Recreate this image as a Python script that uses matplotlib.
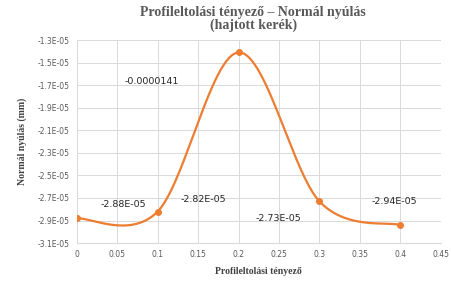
import numpy as np
import matplotlib
matplotlib.use("Agg")
import matplotlib.pyplot as plt
from matplotlib.ticker import FuncFormatter, FixedLocator

x_vals = [0.0, 0.1, 0.2, 0.3, 0.4]
y_vals = [-2.88e-05, -2.82e-05, -1.41e-05, -2.73e-05, -2.94e-05]
point_labels = ["-2.88E-05", "-2.82E-05", "-0.0000141", "-2.73E-05", "-2.94E-05"]
label_pos_x = [0.058, 0.157, 0.092, 0.249, 0.393]
label_pos_y = [-2.755e-05, -2.71e-05, -1.67e-05, -2.88e-05, -2.73e-05]
x_ticks = [0, 0.05, 0.1, 0.15, 0.2, 0.25, 0.3, 0.35, 0.4, 0.45]
y_ticks = [-3.1e-05, -2.9e-05, -2.7e-05, -2.5e-05, -2.3e-05, -2.1e-05,
           -1.9e-05, -1.7e-05, -1.5e-05, -1.3e-05]

title = "Profileltolási tényező – Normál nyúlás\n(hajtott kerék)"
xlabel = "Profileltolási tényező"
ylabel = "Normál nyúlás (mm)"

color = "#ED7D31"

def smooth(xs, ys, n=60):
    xs = np.asarray(xs); ys = np.asarray(ys)
    P = np.column_stack([xs, ys])
    out = []
    for i in range(len(P) - 1):
        p0 = P[i - 1] if i > 0 else P[i]
        p1 = P[i]
        p2 = P[i + 1]
        p3 = P[i + 2] if i + 2 < len(P) else P[i + 1]
        c1 = p1 + (p2 - p0) / 6.0
        c2 = p2 - (p3 - p1) / 6.0
        t = np.linspace(0, 1, n)[:, None]
        seg = ((1 - t) ** 3) * p1 + 3 * ((1 - t) ** 2) * t * c1 + 3 * (1 - t) * t ** 2 * c2 + t ** 3 * p2
        out.append(seg)
    out = np.vstack(out)
    return out[:, 0], out[:, 1]

fig = plt.figure(figsize=(4.52, 2.82), dpi=100)
ax = fig.add_axes([0.170, 0.138, 0.805, 0.72])

sx, sy = smooth(x_vals, y_vals)
ax.plot(sx, sy, color=color, lw=1.6, zorder=3)
ax.plot(x_vals, y_vals, "o", color=color, ms=4, zorder=4)

for lx, ly, t in zip(label_pos_x, label_pos_y, point_labels):
    ax.text(lx, ly, t, fontsize=6.8, color="#262626", ha="center", va="center",
            family="DejaVu Sans")

ax.set_xlim(0, 0.45)
ax.set_ylim(-3.1e-05, -1.3e-05)
ax.xaxis.set_major_locator(FixedLocator(x_ticks))
ax.yaxis.set_major_locator(FixedLocator(y_ticks))
ax.yaxis.set_major_formatter(FuncFormatter(lambda v, p: f"{v:.1E}"))
ax.xaxis.set_major_formatter(FuncFormatter(lambda v, p: f"{round(v, 2):g}"))
ax.grid(True, color="#D9D9D9", lw=0.7)
ax.set_axisbelow(True)
for s in ["top", "right", "left"]:
    ax.spines[s].set_visible(False)
ax.spines["bottom"].set_color("#D9D9D9")
ax.tick_params(length=0, labelsize=5.5, labelcolor="#595959", pad=5)

ax.set_xlabel(xlabel, fontsize=7, fontweight="bold", family="Liberation Serif", color="#404040", labelpad=6)
ax.set_ylabel(ylabel, fontsize=7, fontweight="bold", family="Liberation Serif", color="#404040", labelpad=8)
fig.text(0.56, 0.98, title, fontsize=10, fontweight="bold", family="Liberation Serif",
         color="#595959", ha="center", va="top", linespacing=1.0)

fig.savefig("out.png", dpi=100)
